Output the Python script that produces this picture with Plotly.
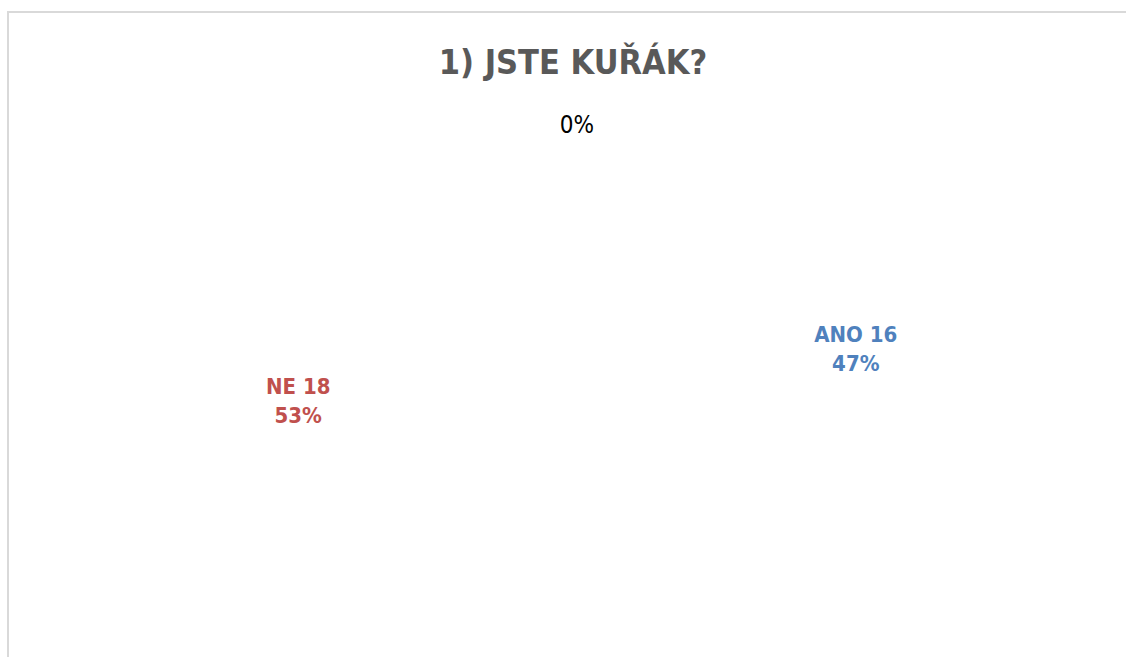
import plotly.graph_objects as go

# ---- data ----
categories = ["ANO", "NE", ""]
counts = [16, 18, 0]
label_colors = ["#4F81BD", "#C0504D", "#000000"]
title_text = "1) JSTE KUŘÁK?"

total = sum(counts)
pcts = [round(100 * c / total) for c in counts]

# mid-angle of each pie slice (clockwise from 12 o'clock, Excel style)
mids = []
acc = 0
for c in counts:
    mids.append(360 * (acc + c / 2) / total)
    acc += c

FONT = "DejaVu Sans Condensed, DejaVu Sans, sans-serif"

fig = go.Figure()

# labels of non-zero slices
nz = [i for i, c in enumerate(counts) if c > 0]
fig.add_trace(go.Scatterpolar(
    r=[1.0] * len(nz),
    theta=[mids[i] for i in nz],
    mode="text",
    text=[f"<b>{categories[i]} {counts[i]}<br>{pcts[i]}%</b>" for i in nz],
    textfont=dict(family=FONT, size=22, color=[label_colors[i] for i in nz]),
    textposition="middle center",
    hoverinfo="skip",
    showlegend=False,
))

# label of zero slice (percentage only)
z = [i for i, c in enumerate(counts) if c == 0]
fig.add_trace(go.Scatterpolar(
    r=[0.893] * len(z),
    theta=[mids[i] for i in z],
    mode="text",
    text=[f"{pcts[i]}%" for i in z],
    textfont=dict(family=FONT, size=24, color=[label_colors[i] for i in z]),
    textposition="middle center",
    hoverinfo="skip",
    showlegend=False,
))

W, H = 1126, 657
cx, cy, R = 577, 377, 280

fig.update_layout(
    width=W, height=H,
    margin=dict(l=0, r=0, t=0, b=0),
    paper_bgcolor="white",
    plot_bgcolor="white",
    title=dict(
        text=f"<b>{title_text}</b>",
        x=573 / W, xanchor="center",
        y=1 - 62 / H, yanchor="middle",
        font=dict(family=FONT, size=34, color="#595959"),
    ),
    polar=dict(
        domain=dict(x=[(cx - R) / W, (cx + R) / W],
                    y=[(H - cy - R) / H, (H - cy + R) / H]),
        bgcolor="rgba(0,0,0,0)",
        radialaxis=dict(range=[0, 1], visible=False),
        angularaxis=dict(rotation=90, direction="clockwise", visible=False),
    ),
    shapes=[dict(
        type="rect", xref="paper", yref="paper",
        x0=8 / W, x1=1.2, y0=-0.2, y1=1 - 12 / H,
        line=dict(color="#D9D9D9", width=2),
        fillcolor="rgba(0,0,0,0)",
        layer="below",
    )],
)

fig.write_html(
    "out.html",
    config={"displayModeBar": False},
    post_script="document.body.style.margin='0';document.body.style.overflow='hidden';",
)
